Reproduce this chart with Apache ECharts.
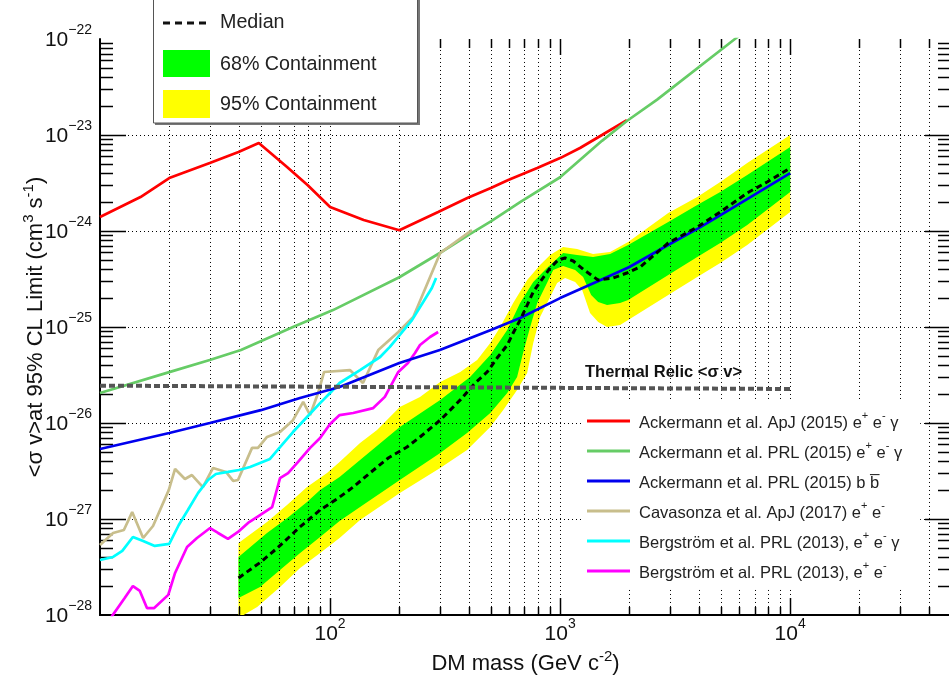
<!DOCTYPE html>
<html>
<head>
<meta charset="utf-8">
<title>DM annihilation cross-section limits</title>
<script src="https://cdn.jsdelivr.net/npm/echarts@6/dist/echarts.min.js"></script>
<style>
  html, body { margin: 0; padding: 0; background: #fff; }
  #chart { width: 949px; height: 677px; }
</style>
</head>
<body>
<div id="chart"></div>
<script>
const FONT = '"Liberation Sans", Arial, Helvetica, sans-serif';

// ---- axis ranges and ticks ----
const X_MIN = 10, X_MAX = 5e4;
const Y_MIN = 1e-28, Y_MAX = 1e-22;
// the y axis extent is padded by a hair so that the end decades count as ordinary labelled ticks
const Y_AXIS_MIN = Y_MIN * 0.9995, Y_AXIS_MAX = Y_MAX * 1.0005;
const xDecades = [10, 100, 1000, 10000];
const xLabelValues = [100, 1000, 10000];
const yDecades = [1e-28, 1e-27, 1e-26, 1e-25, 1e-24, 1e-23, 1e-22];
const minorSteps = [2, 3, 4, 5, 6, 7, 8, 9];

// ---- published limits (mass in GeV, <sigma v> in cm^3 s^-1) ----
const redMass  = [10, 15, 20, 30, 40, 49, 65, 80, 100, 140, 200, 295, 395, 500, 595, 795, 1000, 1220, 1520, 1950];
const redSigma = [1.40e-24, 2.26e-24, 3.56e-24, 5.1e-24, 6.65e-24, 8.26e-24, 4.65e-24, 3.0e-24, 1.78e-24, 1.30e-24,
                  1.02e-24, 1.58e-24, 2.21e-24, 2.81e-24, 3.40e-24, 4.53e-24, 5.75e-24, 7.33e-24, 1.0e-23, 1.43e-23];

const greenMass  = [10, 20, 30, 41, 69, 103, 200, 300, 405, 500, 670, 1000, 1520, 1950, 2640, 5750, 7000];
const greenSigma = [2.05e-26, 3.39e-26, 4.53e-26, 5.75e-26, 1.0e-25, 1.5e-25, 3.3e-25, 5.9e-25, 9.3e-25, 1.26e-24,
                    2.0e-24, 3.63e-24, 8.7e-24, 1.4e-23, 2.34e-23, 1.0e-22, 1.45e-22];

const blueMass  = [10, 20, 30, 50, 74, 110, 200, 300, 500, 670, 1000, 1500, 2000, 3000, 4000, 5000, 6500, 10000];
const blueSigma = [5.36e-27, 7.87e-27, 1.0e-26, 1.36e-26, 1.82e-26, 2.37e-26, 4.22e-26, 5.75e-26, 9.3e-26, 1.24e-25,
                   2.0e-25, 3.09e-25, 4.22e-25, 7.33e-25, 1.07e-24, 1.47e-24, 2.15e-24, 4.0e-24];

const tanMass  = [10, 11.4, 12.7, 13.8, 15.4, 17.0, 19.9, 21.2, 23.4, 25.1, 28.0, 31.0, 35.3, 37.9, 39.8, 45.8, 48.6,
                  53.2, 60.6, 69, 76.4, 81.9, 88.7, 94.2, 122, 139, 162, 198, 230, 301, 414];
const tanSigma = [5.36e-28, 7.15e-28, 7.67e-28, 1.18e-27, 6.34e-28, 8.45e-28, 2.0e-27, 3.32e-27, 2.61e-27, 2.87e-27,
                  2.15e-27, 3.40e-27, 3.09e-27, 2.49e-27, 2.55e-27, 5.5e-27, 5.5e-27, 7.15e-27, 8.05e-27, 1.07e-26,
                  1.66e-26, 1.21e-26, 2.05e-26, 3.40e-26, 3.56e-26, 2.61e-26, 5.75e-26, 8.87e-26, 1.27e-25, 5.9e-25, 1.02e-24];

const cyanMass  = [10, 11.4, 12.5, 13.9, 15.4, 17.3, 20, 22, 24.1, 26.7, 29.5, 31.9, 36, 40.2, 44.9, 54.8, 61.8, 69,
                   79.4, 90.5, 100, 110, 135, 165, 182, 201, 227, 254, 277, 289];
const cyanSigma = [3.74e-28, 4.02e-28, 4.65e-28, 6.5e-28, 5.9e-28, 5.24e-28, 5.5e-28, 8.66e-28, 1.24e-27, 1.87e-27,
                   2.55e-27, 2.94e-27, 3.09e-27, 3.24e-27, 3.48e-27, 4.22e-27, 5.9e-27, 8.05e-27, 1.155e-26, 1.61e-26,
                   2.05e-26, 2.61e-26, 3.56e-26, 4.87e-26, 6.2e-26, 8.26e-26, 1.18e-25, 1.82e-25, 2.55e-25, 3.24e-25];

const magMass  = [11.2, 12.8, 13.9, 14.9, 16.0, 17.2, 19.8, 21.2, 23.9, 26.4, 30.1, 32.6, 36, 39.8, 44, 49.6, 56, 60.6,
                  65.7, 72.6, 81.9, 90.5, 100, 110, 126, 154, 173, 198, 218, 234, 246, 272, 295];
const magSigma = [9.5e-29, 1.50e-28, 2.0e-28, 1.78e-28, 1.18e-28, 1.18e-28, 1.62e-28, 2.74e-28, 5.1e-28, 6.34e-28,
                  8.05e-28, 7.15e-28, 6.2e-28, 7.33e-28, 9.1e-28, 1.10e-27, 1.33e-27, 2.67e-27, 3.01e-27, 3.93e-27,
                  5.5e-27, 6.98e-27, 9.77e-27, 1.21e-26, 1.27e-26, 1.43e-26, 1.87e-26, 3.40e-26, 4.22e-26, 5.36e-26,
                  6.5e-26, 7.87e-26, 8.87e-26];

const thermalMass  = [10, 10000];
const thermalSigma = [2.45e-26, 2.26e-26];

// ---- expected limits: median and containment bands ----
const medMass  = [40, 50, 59, 74, 90.5, 110, 126, 149, 179, 216, 246, 301, 368, 427, 482, 532, 589, 625, 670, 719, 764,
                  818, 905, 980, 1050, 1140, 1270, 1460, 1700, 1950, 2230, 2950, 3950, 4970, 6500, 7940, 10000];
const medSigma = [2.43e-28, 3.56e-28, 4.99e-28, 8.26e-28, 1.24e-27, 1.69e-27, 2.15e-27, 3.01e-27, 4.32e-27, 5.62e-27,
                  7.15e-27, 1.07e-26, 1.74e-26, 2.61e-26, 3.40e-26, 4.75e-26, 6.49e-26, 8.66e-26, 1.18e-25, 1.69e-25,
                  2.32e-25, 2.94e-25, 4.12e-25, 4.99e-25, 5.24e-25, 4.87e-25, 3.93e-25, 3.09e-25, 3.24e-25, 3.65e-25,
                  4.22e-25, 7.5e-25, 1.10e-24, 1.58e-24, 2.49e-24, 3.24e-24, 4.53e-24];

const hi95Mass  = [40, 53.2, 65, 79.4, 97, 110, 135, 160, 201, 246, 301, 368, 436, 497, 549, 625, 719, 818, 905, 1030,
                   1185, 1390, 1648, 1976, 2951, 3945, 4966, 6506, 10000];
const hi95Sigma = [5.62e-28, 9.31e-28, 1.40e-27, 2.15e-27, 3.01e-27, 3.93e-27, 6.19e-27, 8.45e-27, 1.47e-26, 1.87e-26,
                   2.67e-26, 3.40e-26, 4.53e-26, 6.81e-26, 1.0e-25, 1.78e-25, 3.09e-25, 4.42e-25, 5.62e-25, 6.81e-25,
                   6.49e-25, 5.75e-25, 6.04e-25, 7.68e-25, 1.54e-24, 2.26e-24, 3.24e-24, 5.11e-24, 1.0e-23];

const hi68Mass  = [40, 53.2, 65, 79.4, 90.5, 110, 135, 201, 301, 406, 497, 589, 670, 764, 877, 1030, 1185, 1390, 1648,
                   1976, 2951, 3945, 4966, 6506, 10000];
const hi68Sigma = [4.02e-28, 7.15e-28, 1.02e-27, 1.50e-27, 2.0e-27, 2.74e-27, 4.12e-27, 9.08e-27, 1.74e-26, 3.01e-26,
                   5.11e-26, 9.31e-26, 1.78e-25, 2.94e-25, 4.12e-25, 5.90e-25, 5.62e-25, 5.36e-25, 5.75e-25, 7.15e-25,
                   1.24e-24, 1.87e-24, 2.55e-24, 3.83e-24, 7.5e-24];

const lo68Mass  = [40, 49.6, 60.6, 74.1, 90.5, 110, 135, 201, 301, 394, 497, 589, 650, 690, 741, 795, 877, 933, 1030,
                   1162, 1259, 1364, 1463, 1600, 1822, 1976, 2951, 3945, 4966, 6506, 10000];
const lo68Sigma = [1.50e-28, 1.96e-28, 2.94e-28, 4.42e-28, 6.49e-28, 9.53e-28, 1.33e-27, 2.55e-27, 4.87e-27, 7.87e-27,
                   1.27e-26, 2.05e-26, 3.01e-26, 5.36e-26, 1.0e-25, 1.78e-25, 2.87e-25, 3.93e-25, 4.32e-25, 3.93e-25,
                   3.32e-25, 2.15e-25, 1.82e-25, 1.69e-25, 1.78e-25, 1.91e-25, 3.48e-25, 5.36e-25, 7.5e-25, 1.155e-24, 2.55e-24];

const lo95Mass  = [40, 48.2, 60.6, 74.1, 90.5, 110, 135, 201, 301, 394, 497, 565, 650, 719, 764, 818, 905, 970, 1051,
                   1162, 1247, 1349, 1463, 1600, 1822, 1976, 2951, 3945, 4966, 6506, 10000];
const lo95Sigma = [9.31e-29, 1.21e-28, 1.96e-28, 3.09e-28, 4.42e-28, 6.34e-28, 9.77e-28, 1.87e-27, 3.40e-27, 5.24e-27,
                   9.08e-27, 1.36e-26, 2.21e-26, 3.32e-26, 6.81e-26, 1.27e-25, 2.05e-25, 2.87e-25, 3.24e-25, 2.94e-25,
                   2.43e-25, 1.40e-25, 1.13e-25, 1.0e-25, 1.05e-25, 1.18e-25, 2.15e-25, 3.32e-25, 4.64e-25, 7.15e-25, 1.58e-24];

// ---- series names (legend) ----
const NAMES = {
  red: 'Ackermann et al. ApJ (2015) e+ e- γ',
  green: 'Ackermann et al. PRL (2015) e+ e- γ',
  blue: 'Ackermann et al. PRL (2015) b b̄',
  tan: 'Cavasonza et al. ApJ (2017) e+ e-',
  cyan: 'Bergström et al. PRL (2013), e+ e- γ',
  magenta: 'Bergström et al. PRL (2013), e+ e-'
};
const LEGEND_RICH = {};
LEGEND_RICH[NAMES.red] = '{t|Ackermann et al. ApJ (2015) e}{s|+}{t| e}{s|-}{t| γ}';
LEGEND_RICH[NAMES.green] = '{t|Ackermann et al. PRL (2015) e}{s|+}{t| e}{s|-}{t| γ}';
LEGEND_RICH[NAMES.blue] = '{t|Ackermann et al. PRL (2015) b b\u0305}{s| }';
LEGEND_RICH[NAMES.tan] = '{t|Cavasonza et al. ApJ (2017) e}{s|+}{t| e}{s|-}';
LEGEND_RICH[NAMES.cyan] = '{t|Bergström et al. PRL (2013), e}{s|+}{t| e}{s|-}{t| γ}';
LEGEND_RICH[NAMES.magenta] = '{t|Bergström et al. PRL (2013), e}{s|+}{t| e}{s|-}';

// ---- helpers ----
const pairs = (m, s) => m.map((v, i) => [v, s[i]]);
const isDecade = v => Math.abs(Math.log10(v) - Math.round(Math.log10(v))) < 1e-6;

const xMinor = [];
xDecades.forEach(d => minorSteps.forEach(k => { if (k * d < X_MAX) xMinor.push(k * d); }));
const yMinor = [];
yDecades.slice(0, -1).forEach(d => minorSteps.forEach(k => yMinor.push(k * d)));
const xInnerMajor = xDecades.slice(1);
const yInnerMajor = yDecades.slice(1, -1);

const tickRich = {
  b: { fontFamily: FONT, fontSize: 21, color: '#111', lineHeight: 24, verticalAlign: 'bottom' },
  s: { fontFamily: FONT, fontSize: 14, color: '#111', lineHeight: 14, padding: [0, 0, 14, 0], verticalAlign: 'bottom' }
};
const titleRich = {
  b: { fontFamily: FONT, fontSize: 22, color: '#111', lineHeight: 26, verticalAlign: 'bottom' },
  s: { fontFamily: FONT, fontSize: 15, color: '#111', lineHeight: 15, padding: [0, 0, 11, 0], verticalAlign: 'bottom' }
};

// dotted grid and ROOT-style inward ticks on all four sides
function renderFrame(params, api) {
  const bl = api.coord([X_MIN, Y_MIN]);
  const tr = api.coord([X_MAX, Y_MAX]);
  const left = bl[0], bottom = bl[1], right = tr[0], top = tr[1];
  const px = v => Math.round(api.coord([v, Y_MIN])[0]) + 0.5;
  const py = v => Math.round(api.coord([X_MIN, v])[1]) + 0.5;
  const dot = { stroke: '#000', lineWidth: 1, lineDash: [1, 3] };
  const tick = { stroke: '#000', lineWidth: 1.5 };
  const out = [];
  const seg = (x1, y1, x2, y2, style) => out.push({ type: 'line', shape: { x1, y1, x2, y2 }, style });

  xMinor.concat(xInnerMajor).forEach(v => { const x = px(v); seg(x, bottom, x, top, dot); });
  yInnerMajor.forEach(v => { const y = py(v); seg(left, y, right, y, dot); });

  xMinor.forEach(v => { const x = px(v); seg(x, bottom, x, bottom - 8, tick); seg(x, top, x, top + 9, tick); });
  xInnerMajor.forEach(v => { const x = px(v); seg(x, bottom, x, bottom - 17, tick); seg(x, top, x, top + 16, tick); });
  yMinor.forEach(v => { const y = py(v); seg(left, y, left + 13, y, tick); seg(right, y, right - 13, y, tick); });
  yInnerMajor.forEach(v => { const y = py(v); seg(left, y, left + 26, y, tick); seg(right, y, right - 26, y, tick); });
  return { type: 'group', children: out };
}

function bandRenderer(hiM, hiS, loM, loS, color) {
  return function (params, api) {
    const pts = [];
    for (let i = 0; i < hiM.length; i++) pts.push(api.coord([hiM[i], hiS[i]]));
    for (let i = loM.length - 1; i >= 0; i--) pts.push(api.coord([loM[i], loS[i]]));
    return { type: 'polygon', shape: { points: pts }, style: { fill: color } };
  };
}

function limitLine(name, mass, sigma, color, width) {
  return {
    name, type: 'line', data: pairs(mass, sigma), symbol: 'none', showSymbol: false,
    lineStyle: { color, width }, itemStyle: { color }, z: 5, clip: true, silent: true
  };
}

const chart = echarts.init(document.getElementById('chart'), null, { renderer: 'canvas' });

const option = {
  animation: false,
  backgroundColor: '#fff',
  textStyle: { fontFamily: FONT },
  grid: { left: 100, top: 39, width: 851, height: 576, containLabel: false, outerBoundsMode: 'none' },
  xAxis: [{
    type: 'log', logBase: 10, min: X_MIN, max: X_MAX, position: 'bottom',
    axisLine: { show: true, lineStyle: { color: '#000', width: 2 } },
    axisTick: { show: false }, splitLine: { show: false }, minorTick: { show: false },
    axisLabel: {
      margin: 6, rich: tickRich,
      formatter: v => {
        const e = Math.round(Math.log10(v));
        if (!isDecade(v) || xLabelValues.indexOf(Math.pow(10, e)) < 0) return '';
        return '{b|10}{s|' + e + '}';
      }
    },
    name: '{b|DM mass (GeV c}{s|-2}{b|)}', nameLocation: 'middle', nameGap: 34, nameMoveOverlap: false,
    nameTextStyle: { rich: titleRich }
  }, {
    type: 'log', logBase: 10, min: X_MIN, max: X_MAX, position: 'top',
    axisLine: { show: true, lineStyle: { color: '#000', width: 2 } },
    axisTick: { show: false }, axisLabel: { show: false }, splitLine: { show: false }
  }],
  yAxis: [{
    type: 'log', logBase: 10, min: Y_AXIS_MIN, max: Y_AXIS_MAX, position: 'left',
    axisLine: { show: true, lineStyle: { color: '#000', width: 2 } },
    axisTick: { show: false }, splitLine: { show: false }, minorTick: { show: false },
    axisLabel: {
      margin: 8, rich: tickRich, showMinLabel: true, showMaxLabel: true, hideOverlap: false,
      formatter: v => {
        if (!isDecade(v)) return '';
        const e = Math.round(Math.log10(v));
        return '{b|10}{s|\u2212' + (-e) + '}';
      }
    },
    name: '{b|<σ v>at 95% CL Limit (cm}{s|3}{b| s}{s|-1}{b|)}', nameLocation: 'middle', nameRotate: 90,
    nameGap: 53, nameMoveOverlap: false, nameTextStyle: { rich: titleRich }
  }, {
    type: 'log', logBase: 10, min: Y_AXIS_MIN, max: Y_AXIS_MAX, position: 'right',
    axisLine: { show: true, lineStyle: { color: '#000', width: 2 } },
    axisTick: { show: false }, axisLabel: { show: false }, splitLine: { show: false }
  }],
  legend: {
    data: [NAMES.red, NAMES.green, NAMES.blue, NAMES.tan, NAMES.cyan, NAMES.magenta].map(n => ({ name: n, icon: 'rect' })),
    orient: 'vertical', left: 584, top: 400, padding: [10, 18, 6, 3], z: 10,
    backgroundColor: '#fff',
    itemWidth: 43, itemHeight: 3, itemGap: 8, selectedMode: false,
    formatter: n => LEGEND_RICH[n],
    textStyle: {
      padding: [0, 0, 0, 4],
      rich: {
        t: { fontFamily: FONT, fontSize: 16.5, color: '#222', lineHeight: 22, verticalAlign: 'bottom' },
        s: { fontFamily: FONT, fontSize: 11, color: '#222', lineHeight: 11, padding: [0, 0, 11, 0], verticalAlign: 'bottom' }
      }
    }
  },
  graphic: [
    // boxed legend for the expected-limit band
    { type: 'rect', z: 100, shape: { x: 155, y: -4, width: 265, height: 129 }, style: { fill: '#777' } },
    { type: 'rect', z: 101, shape: { x: 153.5, y: -6, width: 264, height: 129 }, style: { fill: '#fff', stroke: '#555', lineWidth: 1 } },
    { type: 'line', z: 102, shape: { x1: 163, y1: 23, x2: 210, y2: 23 }, style: { stroke: '#111', lineWidth: 3, lineDash: [7, 5] } },
    { type: 'rect', z: 102, shape: { x: 163, y: 50, width: 47, height: 27 }, style: { fill: '#00ff00' } },
    { type: 'rect', z: 102, shape: { x: 163, y: 90, width: 47, height: 28 }, style: { fill: '#ffff00' } },
    { type: 'text', z: 102, x: 220, y: 23, style: { text: 'Median', font: '19.7px ' + FONT, fill: '#222', verticalAlign: 'middle' } },
    { type: 'text', z: 102, x: 220, y: 65, style: { text: '68% Containment', font: '19.7px ' + FONT, fill: '#222', verticalAlign: 'middle' } },
    { type: 'text', z: 102, x: 220, y: 105, style: { text: '95% Containment', font: '19.7px ' + FONT, fill: '#222', verticalAlign: 'middle' } },
    // thermal relic annotation
    { type: 'text', z: 102, x: 585, y: 372, style: { text: 'Thermal Relic <σ v>', font: 'bold 16.5px ' + FONT, fill: '#111', verticalAlign: 'middle' } }
  ],
  series: [
    { name: '95% Containment', type: 'custom', renderItem: bandRenderer(hi95Mass, hi95Sigma, lo95Mass, lo95Sigma, '#ffff00'),
      data: [[100, 1e-25]], z: 1, clip: true, silent: true },
    { name: '68% Containment', type: 'custom', renderItem: bandRenderer(hi68Mass, hi68Sigma, lo68Mass, lo68Sigma, '#00ff00'),
      data: [[100, 1e-25]], z: 1, clip: true, silent: true },
    { name: 'frame', type: 'custom', renderItem: renderFrame, data: [[100, 1e-25]], z: 3, clip: false, silent: true },
    limitLine(NAMES.red, redMass, redSigma, '#ff0000', 2.7),
    limitLine(NAMES.green, greenMass, greenSigma, '#66cc66', 2.7),
    limitLine(NAMES.tan, tanMass, tanSigma, '#c8be8c', 2.7),
    limitLine(NAMES.cyan, cyanMass, cyanSigma, '#00ffff', 2.7),
    limitLine(NAMES.magenta, magMass, magSigma, '#ff00ff', 2.7),
    limitLine(NAMES.blue, blueMass, blueSigma, '#0000ee', 2.7),
    { name: 'Median', type: 'line', data: pairs(medMass, medSigma), symbol: 'none', showSymbol: false,
      lineStyle: { color: '#000', width: 3, type: [6, 4] }, z: 6, clip: true, silent: true },
    { name: 'Thermal Relic', type: 'line', data: pairs(thermalMass, thermalSigma), symbol: 'none', showSymbol: false,
      lineStyle: { color: '#555', width: 4, type: [6, 3] }, z: 6, clip: true, silent: true }
  ]
};

chart.setOption(option);
</script>
</body>
</html>
